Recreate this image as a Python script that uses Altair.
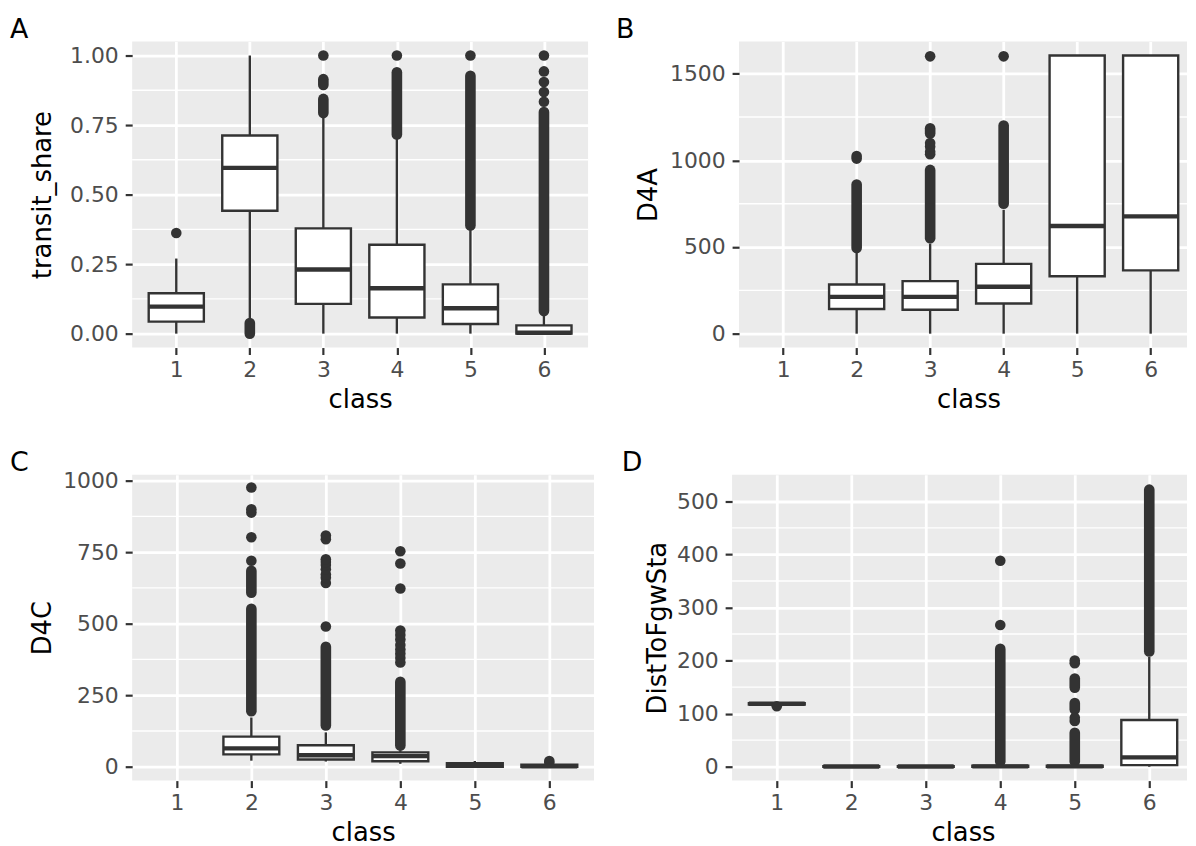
import altair as alt
import pandas as pd

CLASSES = [1, 2, 3, 4, 5, 6]

# ---------------- Panel A : transit_share ----------------
A_q1 = [0.043, 0.442, 0.107, 0.058, 0.0345, 0.0]
A_med = [0.097, 0.596, 0.2305, 0.163, 0.0915, 0.003]
A_q3 = [0.145, 0.7125, 0.3787, 0.3195, 0.177, 0.0296]
A_lo = [0.0, 0.045, 0.0, 0.0, 0.0, 0.0]
A_hi = [0.27, 1.0, 0.78, 0.70, 0.38, 0.072]
A_dense_class = [2, 3, 3, 4, 5, 6]
A_dense_lo = [0.0, 0.793, 0.894, 0.716, 0.389, 0.081]
A_dense_hi = [0.038, 0.844, 0.915, 0.94, 0.927, 0.797]
A_pt_class = [1, 3, 4, 5, 6, 6, 6, 6, 6]
A_pt_val = [0.362, 1.0, 1.0, 1.0, 1.0, 0.943, 0.905, 0.869, 0.834]
A_ticks = [0, 0.25, 0.5, 0.75, 1.0]
A_minor = [0.125, 0.375, 0.625, 0.875]

# ---------------- Panel B : D4A ----------------
B_q1 = [None, 142, 138, 174, 331, 365]
B_med = [None, 212, 212, 271, 621, 677]
B_q3 = [None, 284, 303, 403, 1605, 1605]
B_lo = [None, 0, 0, 0, 0, 0]
B_hi = [None, 470, 520, 715, 1605, 1605]
B_dense_class = [2, 3, 3, 4]
B_dense_lo = [494, 551, 1155, 750]
B_dense_hi = [860, 945, 1185, 1201]
B_pt_class = [2, 2, 3, 3, 3, 3, 3, 4]
B_pt_val = [1010, 1025, 1035, 1050, 1080, 1100, 1600, 1600]
B_ticks = [0, 500, 1000, 1500]
B_minor = [250, 750, 1250]

# ---------------- Panel C : D4C ----------------
C_q1 = [None, 43, 25, 19, 0, 0]
C_med = [None, 64, 40, 37, 4, 1]
C_q3 = [None, 105, 75, 50, 12, 7]
C_lo = [None, 21, 18, 10, 0, 0]
C_hi = [None, 172, 120, 58, 20, 14]
C_dense_class = [2, 2, 3, 4, 6]
C_dense_lo = [194, 608, 144, 74, 14]
C_dense_hi = [552, 685, 419, 297, 20]
C_pt_class = [2, 2, 2, 2, 2,
              3, 3, 3, 3, 3, 3, 3, 3, 3, 3,
              4, 4, 4, 4, 4, 4, 4, 4, 4, 4, 4]
C_pt_val = [720, 802, 888, 900, 976,
            490, 642, 660, 672, 690, 705, 715, 725, 795, 808,
            364, 380, 395, 410, 425, 445, 460, 476, 623, 710, 753]
C_ticks = [0, 250, 500, 750, 1000]
C_minor = [125, 375, 625, 875]

# ---------------- Panel D : DistToFgwSta ----------------
D_q1 = [117, 0, 0, 0, 0, 3]
D_med = [118.5, 0.3, 0.3, 0.5, 0.5, 17.5]
D_q3 = [119.5, 1, 1, 2, 2, 88]
D_lo = [116, 0, 0, 0, 0, 0]
D_hi = [120, 1, 1, 4, 4, 207]
D_dense_class = [4, 5, 5, 5, 6]
D_dense_lo = [10, 10, 108, 149, 217]
D_dense_hi = [222, 64, 120, 166, 522]
D_pt_class = [1, 4, 4, 5, 5, 5, 5]
D_pt_val = [114, 267, 388, 86, 92, 195, 200]
D_ticks = [0, 100, 200, 300, 400, 500]
D_minor = [50, 150, 250, 350, 450]

INK = "#333333"
HALF = 0.375
H = 308
LW = 2.4


def make_panel(letter, ytitle, stats, dense, points, yticks, yminor, ydomain, yfmt,
               width, xmax, letter_dx, letter_dy, ytitle_x, xtitle_x):
    q1, med, q3, lo, hi = stats
    box = pd.DataFrame({"cls": CLASSES, "q1": q1, "med": med, "q3": q3,
                        "lo": lo, "hi": hi}).dropna()
    box["xl"] = box["cls"] - HALF
    box["xr"] = box["cls"] + HALF
    seg = pd.DataFrame({"cls": dense[0], "lo": dense[1], "hi": dense[2]})
    pts = pd.DataFrame({"cls": points[0], "v": points[1]})
    minor = pd.DataFrame({"v": yminor})
    lab = pd.DataFrame({"t": [letter]})

    xs = alt.Scale(domain=[0.4, xmax], nice=False, zero=False)
    ys = alt.Scale(domain=ydomain, nice=False, zero=False)
    xax = alt.Axis(title="class", values=CLASSES, format="d", titleX=xtitle_x, titleY=60,
                   titleBaseline="alphabetic", titleAlign="center",
                   labelFlush=False, labelOverlap=False)
    yax = alt.Axis(title=ytitle, values=yticks, format=yfmt, titleX=ytitle_x, titleY=H / 2,
                   titleAngle=270, titleBaseline="middle", titleAlign="center",
                   labelFlush=False, labelOverlap=False)

    def X(f):
        return alt.X(f"{f}:Q", scale=xs, axis=xax)

    def Y(f):
        return alt.Y(f"{f}:Q", scale=ys, axis=yax)

    minor_l = alt.Chart(minor).mark_rule(color="white", strokeWidth=1.4).encode(y=Y("v"))
    seg_l = alt.Chart(seg).mark_rule(color=INK, strokeWidth=10.7, strokeCap="round").encode(
        x=X("cls"), y=Y("lo"), y2=alt.Y2("hi"))
    pts_l = alt.Chart(pts).mark_circle(color=INK, size=114, opacity=1).encode(
        x=X("cls"), y=Y("v"))
    wl = alt.Chart(box).mark_rule(color=INK, strokeWidth=LW).encode(
        x=X("cls"), y=Y("lo"), y2=alt.Y2("q1"))
    wh = alt.Chart(box).mark_rule(color=INK, strokeWidth=LW).encode(
        x=X("cls"), y=Y("q3"), y2=alt.Y2("hi"))
    bx = alt.Chart(box).mark_rect(fill="white", stroke=INK, strokeWidth=LW).encode(
        x=X("xl"), x2=alt.X2("xr"), y=Y("q1"), y2=alt.Y2("q3"))
    md = alt.Chart(box).mark_rule(color=INK, strokeWidth=4.4).encode(
        x=X("xl"), x2=alt.X2("xr"), y=Y("med"))
    tag = alt.Chart(lab).mark_text(
        font="DejaVu Sans", fontSize=27, color="black", align="left", baseline="alphabetic"
    ).encode(text="t:N", x=alt.value(letter_dx), y=alt.value(letter_dy))
    return alt.layer(minor_l, seg_l, pts_l, wl, wh, bx, md, tag).properties(
        width=width, height=H)


pA = make_panel("A", "transit_share", (A_q1, A_med, A_q3, A_lo, A_hi),
                (A_dense_class, A_dense_lo, A_dense_hi), (A_pt_class, A_pt_val),
                A_ticks, A_minor, [-0.05, 1.05], ".2f",
                459, 6.6, -123, -3.3, -90, 229.5)
pB = make_panel("B", "D4A", (B_q1, B_med, B_q3, B_lo, B_hi),
                (B_dense_class, B_dense_lo, B_dense_hi), (B_pt_class, B_pt_val),
                B_ticks, B_minor, [-80, 1685], "d",
                451, 0.4 + 451 / 74, -124, -3.3, -91, 231)
pC = make_panel("C", "D4C", (C_q1, C_med, C_q3, C_lo, C_hi),
                (C_dense_class, C_dense_lo, C_dense_hi), (C_pt_class, C_pt_val),
                C_ticks, C_minor, [-48.6, 1020.6], "d",
                465, 6.6, -123, -4, -90, 232.5)
pD = make_panel("D", "DistToFgwSta", (D_q1, D_med, D_q3, D_lo, D_hi),
                (D_dense_class, D_dense_lo, D_dense_hi), (D_pt_class, D_pt_val),
                D_ticks, D_minor, [-26.2, 550.2], "d",
                458, 0.4 + 458 / 75, -111, -4, -75, 232.5)

row1 = alt.hconcat(pA, pB, spacing=152, bounds="flush")
row2 = alt.hconcat(pC, pD, spacing=139, bounds="flush")

chart = alt.vconcat(row1, row2, spacing=37).properties(
    padding={"left": 2, "top": 5, "right": 0, "bottom": 0}
).configure_view(
    fill="#EBEBEB", strokeWidth=0
).configure_axis(
    domain=False, grid=True, gridColor="white", gridWidth=2.8, gridOpacity=1,
    tickColor=INK, tickWidth=2.2, tickSize=7,
    labelColor="#4D4D4D", labelFont="DejaVu Sans", labelFontSize=22,
    titleFont="DejaVu Sans", titleFontSize=26, titleColor="black", titleFontWeight="normal"
).configure_axisX(
    labelPadding=5
).configure_axisY(
    labelPadding=7
)

chart.save("out.html", embed_options={"renderer": "svg", "actions": False})
